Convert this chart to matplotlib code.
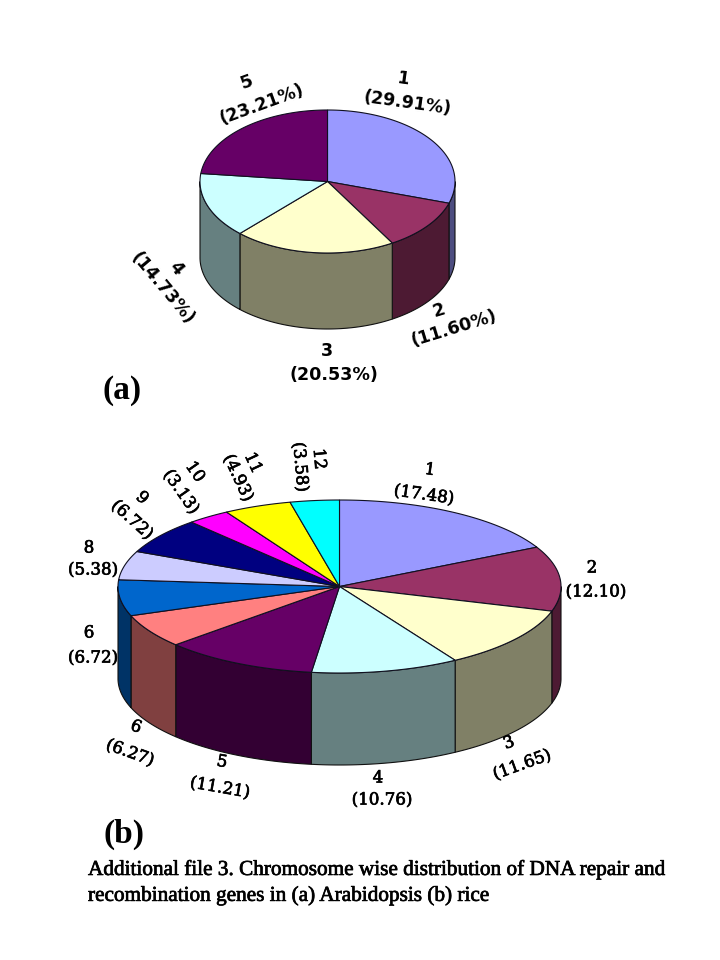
import numpy as np
import matplotlib
matplotlib.use("Agg")
import matplotlib.pyplot as plt
import matplotlib.patheffects as pe
from matplotlib.colors import to_rgb

# chart values
arabidopsis_names = ["1", "2", "3", "4", "5"]
arabidopsis_pct = [29.91, 11.60, 20.53, 14.73, 23.21]
arabidopsis_text = ["(29.91%)", "(11.60%)", "(20.53%)", "(14.73%)", "(23.21%)"]

rice_names = ["1", "2", "3", "4", "5", "6", "6", "8", "9", "10", "11", "12"]
rice_pct = [17.48, 12.10, 11.65, 10.76, 11.21, 6.27, 6.72, 5.38, 6.72, 3.13, 4.93, 3.58]
rice_text = ["(17.48)", "(12.10)", "(11.65)", "(10.76)", "(11.21)", "(6.27)",
             "(6.72)", "(5.38)", "(6.72)", "(3.13)", "(4.93)", "(3.58)"]

colors = ["#9999FF", "#993366", "#FFFFCC", "#CCFFFF", "#660066", "#FF8080",
          "#0066CC", "#CCCCFF", "#000080", "#FF00FF", "#FFFF00", "#00FFFF"]

caption = ["Additional file 3. Chromosome wise distribution of DNA repair and",
           "recombination genes in (a) Arabidopsis (b) rice"]

# label layout: name xy, value xy, rotation
a_layout = [((403, 79), (407, 103), -8), ((439, 310), (454, 328), 17),
            ((327, 351), (334, 375), 0), ((176, 268), (162, 288), -50),
            ((247, 82), (262, 104), 20)]
b_layout = [((430, 470), (424, 495), -8), ((592, 568), (596, 592), 0),
            ((509, 743), (522, 765), 20), ((378, 778), (382, 800), 0),
            ((222, 762), (220, 788), -10), ((136, 727), (130, 753), -20),
            ((89, 633), (93, 658), 0), ((89, 548), (93, 570), 0),
            ((142, 498), (132, 520), -42), ((195, 472), (181, 492), -55),
            ((253, 463), (238, 478), -65), ((319, 459), (300, 467), -85)]

thick = [pe.withStroke(linewidth=0.5, foreground="black")]


def dark(c):
    return tuple(v * 0.5 for v in to_rgb(c))


def draw_pie(ax, values, cx, cy, rx, ry, depth):
    edges = np.cumsum([0] + list(values)) / sum(values) * 2 * np.pi

    # side wall first, only the part facing us
    for i, v in enumerate(values):
        lo, hi = max(edges[i], np.pi / 2), min(edges[i + 1], 3 * np.pi / 2)
        if hi <= lo:
            continue
        t = np.linspace(lo, hi, 80)
        x = cx + rx * np.sin(t)
        y = cy - ry * np.cos(t)
        ax.fill(np.r_[x, x[::-1]], np.r_[y, y[::-1] + depth],
                fc=dark(colors[i]), ec="#101010", lw=0.8, zorder=2)

    for i, v in enumerate(values):
        t = np.linspace(edges[i], edges[i + 1], 120)
        x = np.r_[cx, cx + rx * np.sin(t)]
        y = np.r_[cy, cy - ry * np.cos(t)]
        ax.fill(x, y, fc=colors[i], ec="#101020", lw=0.8, zorder=3)


def put_labels(ax, names, vals, layout, **kw):
    for name, val, (p1, p2, rot) in zip(names, vals, layout):
        ax.text(*p1, name, rotation=rot, ha="center", va="center",
                rotation_mode="anchor", **kw)
        ax.text(*p2, val, rotation=rot, ha="center", va="center",
                rotation_mode="anchor", **kw)


fig = plt.figure(figsize=(7.2, 9.6), dpi=100, facecolor="white")
ax = fig.add_axes([0, 0, 1, 1])
ax.set_xlim(0, 720)
ax.set_ylim(960, 0)
ax.axis("off")

draw_pie(ax, arabidopsis_pct, 327.5, 181.5, 127.5, 71.5, 76)
draw_pie(ax, rice_pct, 339.5, 586.5, 221.5, 86.5, 92)

put_labels(ax, arabidopsis_names, arabidopsis_text, a_layout, fontsize=12.6,
           family="DejaVu Sans", weight="bold")
put_labels(ax, rice_names, rice_text, b_layout, fontsize=12,
           family="DejaVu Serif", path_effects=thick)

ax.text(122.5, 391, "(a)", ha="center", va="center", fontsize=24,
        family="Liberation Serif", weight="bold")
ax.text(124, 834, "(b)", ha="center", va="center", fontsize=24,
        family="Liberation Serif", weight="bold")

for y, line in zip([870, 896], caption):
    ax.text(88, y, line, ha="left", va="center", fontsize=15.3,
            family="Liberation Serif", path_effects=thick)

fig.savefig("out.png", dpi=100)
